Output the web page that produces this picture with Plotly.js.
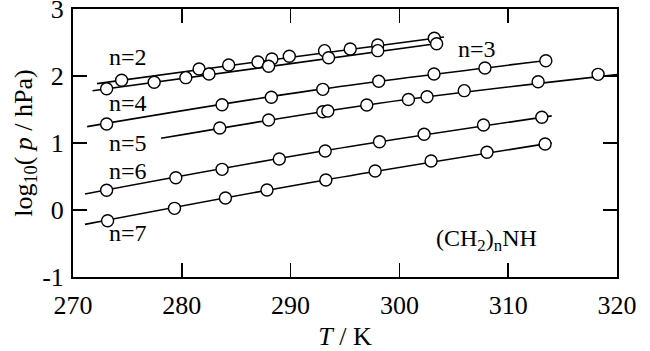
<!DOCTYPE html>
<html>
<head>
<meta charset="utf-8">
<script src="https://cdn.plot.ly/plotly-3.0.1.min.js"></script>
<style>html,body{margin:0;padding:0;background:#fff;}#chart{width:650px;height:351px;}</style>
</head>
<body>
<div id="chart"></div>
<script>
// Measured points (T / K, log10(p / hPa))
const n2T = [274.47, 281.59, 284.31, 287.00, 288.28, 289.88, 293.12, 295.48, 298.01, 303.21];
const n2V = [1.936, 2.104, 2.164, 2.209, 2.254, 2.294, 2.378, 2.403, 2.463, 2.563];
const n3T = [273.09, 277.46, 280.37, 282.50, 287.98, 293.49, 298.01, 303.42];
const n3V = [1.810, 1.906, 1.975, 2.030, 2.145, 2.273, 2.378, 2.482];
const n4T = [273.09, 283.70, 288.23, 292.96, 298.10, 303.18, 307.86, 313.46];
const n4V = [1.284, 1.572, 1.682, 1.801, 1.921, 2.030, 2.119, 2.228];
const n5T = [283.49, 287.98, 292.96, 293.42, 297.00, 300.83, 302.54, 305.96, 312.75, 318.26];
const n5V = [1.224, 1.343, 1.467, 1.478, 1.567, 1.649, 1.691, 1.781, 1.915, 2.025];
const n6T = [273.09, 279.45, 283.70, 288.96, 293.18, 298.17, 302.27, 307.73, 313.09];
const n6V = [0.294, 0.482, 0.607, 0.761, 0.881, 1.019, 1.130, 1.269, 1.384];
const n7T = [273.18, 279.33, 284.01, 287.83, 293.24, 297.77, 302.91, 308.05, 313.39];
const n7V = [-0.160, 0.025, 0.179, 0.299, 0.448, 0.582, 0.731, 0.861, 0.985];

// Fitted curves
const f2T = [272.2, 288.0, 304.1], f2V = [1.886, 2.235, 2.582];
const f3T = [271.8, 288.0, 304.0], f3V = [1.781, 2.140, 2.495];
const f4T = [271.3, 292.0, 313.9], f4V = [1.245, 1.785, 2.238];
const f5T = [278.1, 298.0, 320.0], f5V = [1.070, 1.590, 2.020];
const f6T = [271.1, 292.0, 314.0], f6V = [0.240, 0.855, 1.405];
const f7T = [271.1, 292.0, 314.0], f7V = [-0.215, 0.415, 1.002];

const xTicks = [270, 280, 290, 300, 310, 320];
const yTicks = [-1, 0, 1, 2, 3];

const labels = ['n=2', 'n=3', 'n=4', 'n=5', 'n=6', 'n=7', '(CH<sub>2</sub>)<sub>n</sub>NH'];
const labelT = [275.06, 307.13, 275.06, 275.06, 275.06, 275.06, 308.0];
const labelV = [2.28, 2.40, 1.60, 1.00, 0.58, -0.34, -0.45];

const fits = [[f2T,f2V],[f3T,f3V],[f4T,f4V],[f5T,f5V],[f6T,f6V],[f7T,f7V]];
const pts = [[n2T,n2V],[n3T,n3V],[n4T,n4V],[n5T,n5V],[n6T,n6V],[n7T,n7V]];

const traces = [];
fits.forEach(f => traces.push({x:f[0], y:f[1], mode:'lines', type:'scatter',
  line:{color:'#000', width:1.6, shape:'spline'}, hoverinfo:'skip'}));
pts.forEach(p => traces.push({x:p[0], y:p[1], mode:'markers', type:'scatter',
  marker:{symbol:'circle', size:12, color:'#fff', line:{color:'#000', width:1.4}}}));

const font = {family:'"Liberation Serif", "Times New Roman", serif', color:'#000'};

const annotations = labels.map((t,i) => ({x:labelT[i], y:labelV[i], xref:'x', yref:'y',
  text:t, showarrow:false, xanchor:'center', yanchor:'middle',
  font:Object.assign({}, font, {size:24})}));

const layout = {
  width:650, height:351,
  margin:{l:73, r:33, t:9, b:74, pad:0},
  paper_bgcolor:'#fff', plot_bgcolor:'#fff',
  showlegend:false,
  font:Object.assign({}, font, {size:26}),
  xaxis:{range:[270,320], tickvals:xTicks, ticktext:xTicks.map(String),
    ticks:'inside', ticklen:14, tickwidth:1.6, tickcolor:'#000',
    showline:true, linecolor:'#000', linewidth:2, mirror:'ticks',
    showgrid:false, zeroline:false, ticklabeloverflow:'allow', ticklabelstandoff:4,
    tickfont:Object.assign({}, font, {size:26}),
    title:{text:'<i>T</i> / K', font:Object.assign({}, font, {size:26}), standoff:9}},
  yaxis:{range:[-1,3], tickvals:yTicks, ticktext:yTicks.map(String),
    ticks:'inside', ticklen:14, tickwidth:1.6, tickcolor:'#000',
    showline:true, linecolor:'#000', linewidth:2, mirror:'ticks',
    showgrid:false, zeroline:false, ticklabeloverflow:'allow', ticklabelstandoff:2,
    tickfont:Object.assign({}, font, {size:26}),
    title:{text:'log<sub>10</sub>( <i>p</i> / hPa)', font:Object.assign({}, font, {size:26}), standoff:2}},
  annotations:annotations
};

Plotly.newPlot('chart', traces, layout, {staticPlot:true, displayModeBar:false});
</script>
</body>
</html>
